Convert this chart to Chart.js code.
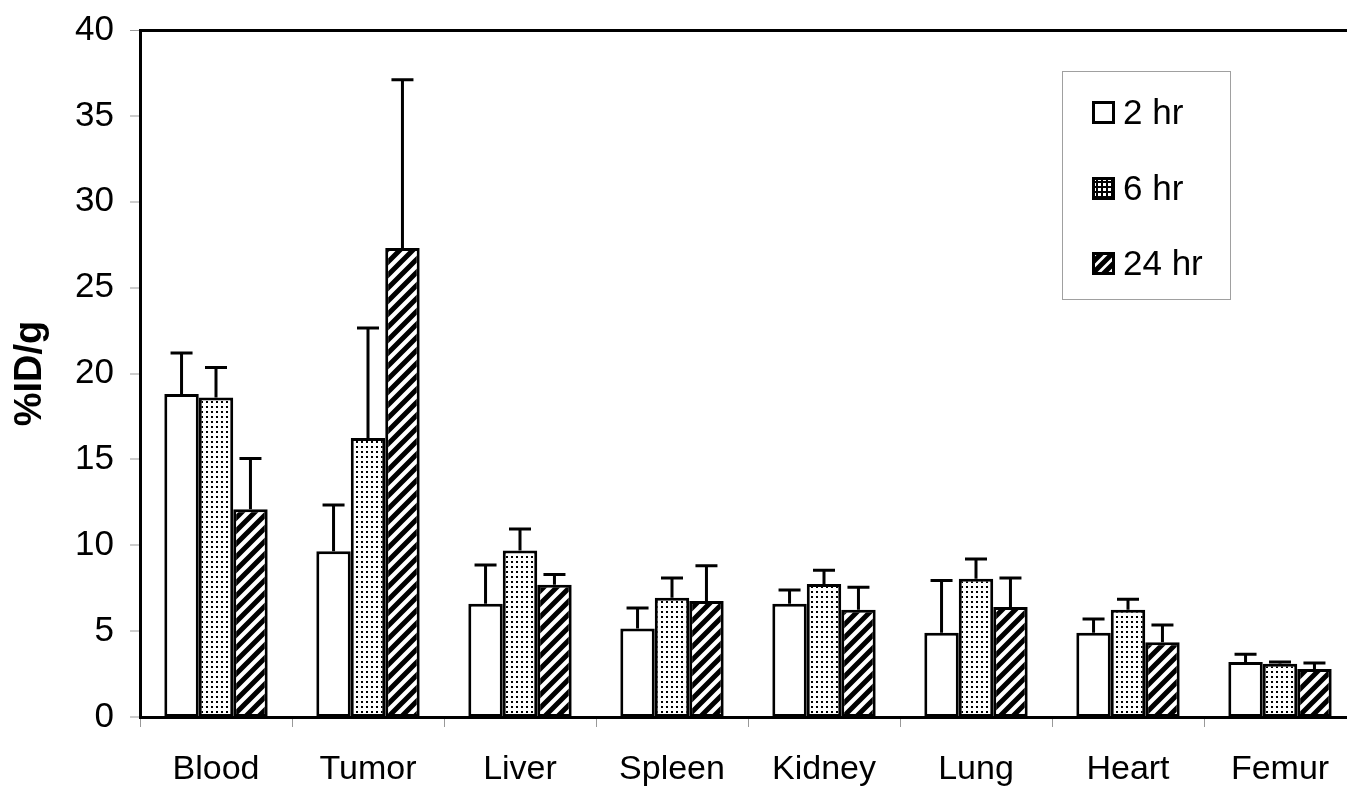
<!DOCTYPE html>
<html lang="en">
<head>
    <meta charset="UTF-8">
    <title>%ID/g biodistribution</title>
    <script src="https://cdn.jsdelivr.net/npm/chart.js"></script>
    <style>
        body {
            margin: 0;
            padding: 0;
            background: #fff;
            overflow: hidden;
            font-family: "Liberation Sans", Arial, sans-serif;
        }
        .wrap {
            position: relative;
            width: 1347px;
            height: 789px;
            overflow: hidden;
        }
        #chart {
            position: absolute;
            left: 0;
            top: 0;
        }
        .legend {
            position: absolute;
            left: 1062px;
            top: 71px;
            width: 169px;
            height: 229px;
            border: 1px solid #a0a0a0;
            background: #fff;
            box-sizing: border-box;
        }
        .legend .item {
            position: absolute;
            left: 29px;
            height: 40px;
            display: flex;
            align-items: center;
            font-size: 35px;
            color: #000;
        }
        .legend canvas {
            margin-right: 8px;
        }
    </style>
</head>
<body>
    <div class="wrap">
        <canvas id="chart" width="1360" height="789"></canvas>
        <div class="legend" id="legend"></div>
    </div>
    <script>
        const categories = ['Blood', 'Tumor', 'Liver', 'Spleen', 'Kidney', 'Lung', 'Heart', 'Femur'];
        const seriesNames = ['2 hr', '6 hr', '24 hr'];
        const mean2hr = [18.8, 9.65, 6.6, 5.15, 6.6, 4.9, 4.9, 3.2];
        const err2hr = [2.4, 2.7, 2.25, 1.2, 0.8, 3.05, 0.8, 0.45];
        const mean6hr = [18.6, 16.25, 9.7, 6.95, 7.75, 8.05, 6.25, 3.1];
        const err6hr = [1.75, 6.4, 1.25, 1.15, 0.8, 1.15, 0.6, 0.1];
        const mean24hr = [12.1, 27.3, 7.7, 6.75, 6.25, 6.4, 4.35, 2.8];
        const err24hr = [2.95, 9.8, 0.6, 2.05, 1.3, 1.7, 1.0, 0.35];
        const yTicks = [0, 5, 10, 15, 20, 25, 30, 35, 40];

        Chart.defaults.font.family = '"Liberation Sans", Arial, sans-serif';
        Chart.defaults.color = '#000';

        // pattern tiles: 1 = dots, 2 = diagonal stripes
        function makeTile(k, dark) {
            const c = document.createElement('canvas');
            if (k === 1) {
                c.width = 5; c.height = 5;
                const g = c.getContext('2d');
                g.fillStyle = dark ? '#000' : '#fff';
                g.fillRect(0, 0, 5, 5);
                g.fillStyle = dark ? '#fff' : '#000';
                if (dark) g.fillRect(1, 1, 3, 3);
                else g.fillRect(1, 1, 2, 2);
                return c;
            }
            const s = dark ? 11 : 13;
            c.width = s; c.height = s;
            const g = c.getContext('2d');
            g.fillStyle = '#fff';
            g.fillRect(0, 0, s, s);
            g.strokeStyle = '#000';
            g.lineWidth = 5;
            g.beginPath();
            g.moveTo(-2, s + 2); g.lineTo(s + 2, -2);
            g.moveTo(-3, 3); g.lineTo(3, -3);
            g.moveTo(s - 3, s + 3); g.lineTo(s + 3, s - 3);
            g.stroke();
            return c;
        }

        const ctx = document.getElementById('chart').getContext('2d');
        const fills = ['#fff', ctx.createPattern(makeTile(1), 'repeat'), ctx.createPattern(makeTile(2), 'repeat')];
        const means = [mean2hr, mean6hr, mean24hr];
        const errs = [err2hr, err6hr, err24hr];

        // upper error bars, placed with the y scale
        const errorBars = {
            id: 'errorBars',
            afterDatasetsDraw(chart) {
                const c = chart.ctx;
                const y = chart.scales.y;
                c.save();
                c.strokeStyle = '#000';
                c.lineWidth = 3;
                chart.data.datasets.forEach((ds, di) => {
                    const meta = chart.getDatasetMeta(di);
                    meta.data.forEach((bar, i) => {
                        const top = y.getPixelForValue(ds.data[i] + ds.errors[i]);
                        c.beginPath();
                        c.moveTo(bar.x, bar.y);
                        c.lineTo(bar.x, top);
                        c.moveTo(bar.x - 11, top);
                        c.lineTo(bar.x + 11, top);
                        c.stroke();
                    });
                });
                c.restore();
            }
        };

        new Chart(ctx, {
            type: 'bar',
            data: {
                labels: categories,
                datasets: seriesNames.map((name, k) => ({
                    label: name,
                    data: means[k],
                    errors: errs[k],
                    backgroundColor: fills[k],
                    borderColor: '#000',
                    borderWidth: 3,
                    borderSkipped: false,
                    categoryPercentage: 0.68,
                    barPercentage: 1.0
                }))
            },
            options: {
                responsive: false,
                animation: false,
                layout: { padding: { top: 30, right: 4, left: 0, bottom: 0 } },
                plugins: {
                    legend: { display: false },
                    tooltip: { enabled: false }
                },
                scales: {
                    x: {
                        afterFit(scale) { scale.height = 72; },
                        border: { color: '#000', width: 3 },
                        grid: {
                            offset: true,
                            drawOnChartArea: false,
                            tickLength: 10,
                            tickColor: '#999',
                            tickWidth: 1
                        },
                        ticks: {
                            font: { size: 34 },
                            padding: 22,
                            maxRotation: 0,
                            autoSkip: false
                        }
                    },
                    y: {
                        min: 0,
                        max: 40,
                        afterFit(scale) {
                            scale.width = 140;
                            scale.paddingTop = 0;
                            scale.paddingBottom = 0;
                        },
                        afterBuildTicks(scale) { scale.ticks = yTicks.map(v => ({ value: v })); },
                        border: { color: '#000', width: 3 },
                        grid: {
                            color: c => (c.tick && c.tick.value === 40 ? '#000' : 'rgba(0,0,0,0)'),
                            lineWidth: c => (c.tick && c.tick.value === 40 ? 3 : 0),
                            tickLength: 10,
                            tickColor: '#999',
                            tickWidth: 1
                        },
                        ticks: {
                            font: { size: 35 },
                            padding: 16
                        },
                        title: {
                            display: true,
                            text: '%ID/g',
                            font: { size: 38, weight: 'bold' },
                            padding: { top: 8, bottom: 0 }
                        }
                    }
                }
            },
            plugins: [errorBars]
        });

        // legend with real text, swatches use the same fills
        const legend = document.getElementById('legend');
        const rowTops = [20, 96, 171];
        seriesNames.forEach((name, k) => {
            const item = document.createElement('div');
            item.className = 'item';
            item.style.top = rowTops[k] + 'px';
            const sw = document.createElement('canvas');
            sw.width = 23; sw.height = 23;
            const g = sw.getContext('2d');
            g.fillStyle = k === 0 ? '#fff' : g.createPattern(makeTile(k, true), 'repeat');
            g.fillRect(0, 0, 23, 23);
            g.strokeStyle = '#000';
            g.lineWidth = 3;
            g.strokeRect(1.5, 1.5, 20, 20);
            item.appendChild(sw);
            const t = document.createElement('span');
            t.textContent = name;
            item.appendChild(t);
            legend.appendChild(item);
        });
    </script>
</body>
</html>
